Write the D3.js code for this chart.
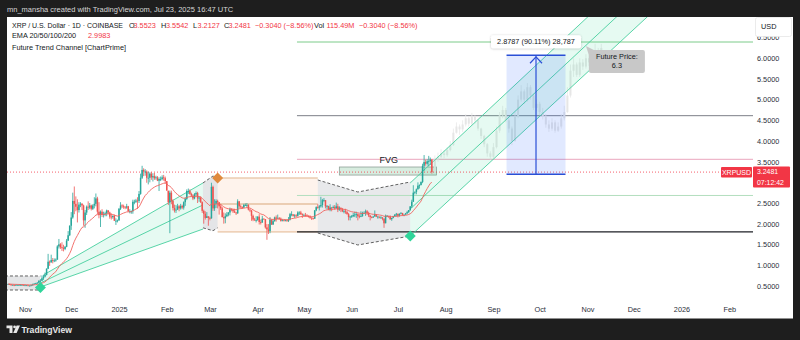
<!DOCTYPE html>
<html><head><meta charset="utf-8">
<script src="https://cdn.jsdelivr.net/npm/d3@7"></script>
<style>
body{margin:0;background:#1e1e1e;}
svg{display:block;font-family:"Liberation Sans",Arial,sans-serif;}
</style>
</head><body>
<svg id="c" width="800" height="340"></svg>
<script>
// ---------------- DATA ----------------
const startDate = "2024-10-21";
const firstOpen = 0.54;
const closes = [
0.54,0.53,0.52,0.52,0.51,0.52,0.52,
0.52,0.52,0.52,0.51,0.51,0.51,0.50,
0.50,0.51,0.53,0.55,0.56,0.57,0.62,
0.62,0.68,0.72,0.76,0.91,1.08,1.07,
1.12,1.10,1.11,1.13,1.45,1.50,1.43,
1.41,1.39,1.44,1.59,1.72,1.95,2.15,
2.55,2.48,2.41,2.33,2.46,2.48,2.44,
2.08,2.27,2.41,2.39,2.44,2.36,2.44,
2.48,2.61,2.29,2.21,2.29,2.22,2.23,
2.25,2.32,2.27,2.17,2.16,2.19,2.07,
2.07,2.08,2.36,2.44,2.42,2.41,2.39,
2.42,2.30,2.30,2.30,2.53,2.53,2.56,
2.55,2.72,3.11,3.30,3.26,3.26,3.11,
3.11,3.21,3.12,3.15,3.10,3.12,3.04,
3.08,3.08,3.12,3.10,3.03,2.80,2.52,
2.75,2.55,2.38,2.32,2.34,2.42,2.37,
2.43,2.39,2.52,2.60,2.79,2.79,2.72,
2.68,2.61,2.71,2.74,2.61,2.63,2.52,
2.31,2.24,2.14,2.18,2.14,2.13,2.89,
2.37,2.48,2.55,2.52,2.42,2.37,2.16,
2.13,2.18,2.22,2.27,2.35,2.34,2.30,
2.27,2.25,2.54,2.42,2.40,2.39,2.45,
2.45,2.45,2.34,2.32,2.19,2.10,2.09,
2.09,2.17,2.04,2.03,2.12,2.11,1.91,
1.86,1.82,2.10,1.98,2.06,2.15,2.12,
2.14,2.12,2.07,2.08,2.07,2.08,2.07,
2.10,2.23,2.23,2.19,2.20,2.19,2.27,
2.27,2.23,2.21,2.21,2.20,2.19,2.16,
2.15,2.13,2.12,2.32,2.40,2.39,2.42,
2.45,2.57,2.57,2.42,2.43,2.34,2.39,
2.38,2.40,2.37,2.42,2.34,2.39,2.35,
2.30,2.30,2.28,2.23,2.16,2.17,2.18,
2.21,2.22,2.23,2.18,2.17,2.18,2.26,
2.26,2.30,2.26,2.20,2.16,2.15,2.17,
2.23,2.17,2.17,2.15,2.15,2.12,2.01,
2.19,2.19,2.17,2.11,2.14,2.18,2.22,
2.24,2.19,2.24,2.26,2.21,2.22,2.25,
2.28,2.33,2.42,2.53,2.75,2.77,2.83,
2.92,2.93,3.01,3.40,3.49,3.45,3.51,
3.51,3.5523,3.2481];
const highs = [
0.55,0.55,0.54,0.53,0.53,0.53,0.53,
0.53,0.54,0.53,0.53,0.52,0.52,0.51,
0.51,0.53,0.55,0.56,0.57,0.59,0.63,
0.66,0.75,0.76,0.82,0.92,1.27,1.11,
1.25,1.17,1.16,1.16,1.48,1.63,1.53,
1.55,1.49,1.46,1.63,1.82,1.96,2.28,
2.75,2.90,2.66,2.59,2.52,2.52,2.50,
2.46,2.33,2.44,2.54,2.50,2.46,2.47,
2.64,2.73,2.65,2.52,2.32,2.35,2.29,
2.29,2.34,2.33,2.29,2.25,2.20,2.22,
2.13,2.10,2.38,2.52,2.47,2.46,2.42,
2.48,2.43,2.35,2.32,2.58,2.58,2.60,
2.64,2.79,3.21,3.40,3.34,3.32,3.29,
3.26,3.24,3.25,3.22,3.23,3.16,3.15,
3.12,3.14,3.17,3.18,3.14,3.02,2.79,
2.80,2.80,2.59,2.46,2.45,2.48,2.45,
2.48,2.46,2.54,2.64,2.83,2.85,2.83,
2.75,2.71,2.74,2.78,2.77,2.66,2.66,
2.54,2.34,2.30,2.28,2.17,2.17,2.99,
2.92,2.59,2.59,2.58,2.52,2.47,2.40,
2.27,2.25,2.28,2.28,2.39,2.37,2.35,
2.36,2.28,2.59,2.55,2.46,2.42,2.48,
2.49,2.50,2.47,2.36,2.33,2.22,2.14,
2.18,2.18,2.23,2.10,2.19,2.13,2.11,
1.99,1.99,2.16,2.10,2.09,2.17,2.20,
2.22,2.16,2.15,2.11,2.09,2.10,2.09,
2.16,2.26,2.30,2.21,2.23,2.23,2.30,
2.30,2.31,2.25,2.24,2.26,2.23,2.20,
2.20,2.15,2.14,2.33,2.42,2.47,2.45,
2.65,2.60,2.62,2.57,2.45,2.43,2.47,
2.40,2.44,2.45,2.51,2.48,2.42,2.37,
2.38,2.34,2.36,2.31,2.26,2.19,2.21,
2.26,2.29,2.29,2.25,2.23,2.30,2.29,
2.30,2.34,2.33,2.29,2.20,2.18,2.19,
2.32,2.23,2.19,2.17,2.18,2.16,2.13,
2.22,2.21,2.18,2.20,2.14,2.19,2.23,
2.26,2.24,2.25,2.28,2.26,2.22,2.26,
2.31,2.33,2.42,2.58,2.93,2.78,2.85,
3.00,2.95,3.02,3.45,3.66,3.55,3.56,
3.64,3.60,3.5542];
const lows = [
0.53,0.52,0.50,0.51,0.49,0.51,0.51,
0.51,0.51,0.51,0.50,0.50,0.50,0.49,
0.49,0.49,0.50,0.53,0.54,0.55,0.56,
0.58,0.61,0.64,0.70,0.75,0.90,0.98,
1.05,1.04,1.07,1.08,1.13,1.40,1.39,
1.34,1.33,1.36,1.43,1.58,1.70,1.85,
2.12,2.23,2.30,2.03,2.27,2.40,2.33,
1.95,1.90,2.21,2.33,2.35,2.32,2.33,
2.37,2.42,2.23,2.13,1.92,2.16,2.15,
2.18,2.18,2.23,2.12,2.10,2.12,2.07,
1.97,2.03,2.07,2.33,2.38,2.36,2.35,
2.36,2.29,2.25,2.24,2.24,2.47,2.50,
2.36,2.50,2.70,3.08,3.15,3.16,2.99,
2.95,3.00,3.06,3.02,3.06,3.06,3.03,
2.79,3.03,3.05,3.04,2.97,2.80,2.45,
1.77,2.47,2.32,2.27,2.26,2.33,2.30,
2.34,2.35,2.34,2.43,2.57,2.72,2.70,
2.65,2.57,2.59,2.66,2.50,2.53,2.50,
2.26,2.00,2.10,2.14,1.95,2.08,2.12,
2.31,2.31,2.38,2.37,2.22,2.33,2.15,
2.00,2.01,2.16,2.18,2.20,2.30,2.26,
2.26,2.21,2.24,2.38,2.37,2.36,2.38,
2.43,2.39,2.32,2.28,2.07,2.06,2.07,
2.03,2.07,1.98,1.98,2.02,2.10,1.88,
1.61,1.75,1.77,1.97,1.97,2.05,2.05,
2.13,2.10,2.05,2.06,2.06,2.06,2.05,
2.04,2.08,2.18,2.17,2.14,2.16,2.17,
2.21,2.21,2.14,2.20,2.17,2.18,2.15,
2.12,2.09,2.10,2.12,2.30,2.36,2.32,
2.39,2.39,2.52,2.37,2.35,2.33,2.30,
2.30,2.37,2.34,2.37,2.28,2.31,2.28,
2.28,2.25,2.24,2.22,2.08,2.08,2.14,
2.16,2.16,2.14,2.08,2.13,2.16,2.17,
2.25,2.19,2.21,2.16,2.08,2.13,2.14,
2.18,2.16,2.12,2.13,2.12,2.08,1.90,
2.01,2.16,2.14,2.09,2.07,2.13,2.17,
2.17,2.15,2.17,2.23,2.19,2.18,2.21,
2.23,2.26,2.31,2.38,2.53,2.71,2.71,
2.83,2.85,2.94,2.98,3.28,3.40,3.40,
3.39,3.42,3.2127];

// projected (ghost) candles, one every 2 days from this date
const ghostStart = "2025-07-25";
const ghostCloses = [3.55,3.62,3.70,3.66,3.78,3.90,4.20,4.35,4.28,4.40,4.55,4.42,4.60,4.50,4.30,4.12,3.92,3.70,3.62,3.85,4.25,4.62,4.75,4.50,4.30,4.00,4.60,5.00,5.20,5.00,5.30,5.10,4.80,4.90,4.70,4.60,4.40,4.30,4.45,4.25,4.35,4.55,4.70,5.10,5.70,5.85,5.60,5.90,5.80,6.00,5.90,6.10,6.20,6.00,6.25];
const ghostHighs  = [3.65,3.72,3.80,3.78,3.85,4.00,4.30,4.45,4.40,4.50,4.65,4.58,4.68,4.62,4.52,4.32,4.15,3.95,3.75,3.95,4.35,4.70,4.85,4.80,4.55,4.35,4.70,5.10,5.35,5.25,5.40,5.35,5.15,5.00,4.95,4.80,4.65,4.50,4.55,4.50,4.45,4.65,4.85,5.30,5.85,6.00,5.90,6.00,5.98,6.10,6.08,6.20,6.35,6.25,6.35];
const ghostLows   = [3.45,3.50,3.58,3.58,3.62,3.75,3.88,4.18,4.15,4.22,4.35,4.35,4.38,4.42,4.25,4.05,3.85,3.62,3.55,3.58,3.82,4.20,4.55,4.45,4.20,3.90,3.98,4.55,4.95,4.90,4.95,5.00,4.75,4.72,4.62,4.52,4.32,4.22,4.25,4.20,4.22,4.30,4.50,4.68,5.05,5.55,5.55,5.55,5.72,5.75,5.82,5.85,6.05,5.90,5.95];

// axes
const timeTicks  = ["2024-11-01","2024-12-01","2025-01-01","2025-02-01","2025-03-01","2025-04-01","2025-05-01","2025-06-01","2025-07-01","2025-08-01","2025-09-01","2025-10-01","2025-11-01","2025-12-01","2026-01-01","2026-02-01"];
const timeLabels = ["Nov","Dec","2025","Feb","Mar","Apr","May","Jun","Jul","Aug","Sep","Oct","Nov","Dec","2026","Feb"];
const priceTicks = [0.5,1,1.5,2,2.5,3,3.5,4,4.5,5,5.5,6,6.5];

// annotations in [date, price]
const leftZoneTop    = [["2024-10-19",0.735],["2024-11-11",0.735]];
const leftZoneBottom = [["2024-10-19",0.396],["2024-11-11",0.396]];
const fanUpper  = [["2024-11-13",0.76],["2025-02-24T12:00",2.985]];
const fanMiddle = [["2024-11-11",0.565],["2025-02-24T12:00",2.452]];
const fanLower  = [["2024-11-11",0.468],["2025-02-24T12:00",1.87]];
const marZoneTop    = [["2025-02-24T12:00",2.985],["2025-03-03",3.153],["2025-03-06",3.105]];
const marZoneBottom = [["2025-02-24T12:00",1.90],["2025-03-03",1.83],["2025-03-06",1.90]];
const orangeBox = {from:"2025-03-06", to:"2025-05-10", top:3.105, mid:2.476, bottom:1.80};
const midZoneTop    = [["2025-05-10",3.057],["2025-06-05",2.766],["2025-07-09",3.008]];
const midZoneBottom = [["2025-05-10",1.775],["2025-06-05",1.485],["2025-07-09",1.70]];
const chanUpper  = [["2025-07-09",2.985],["2026-01-13",9.54]];
const chanMiddle = [["2025-07-09",2.355],["2026-01-13",8.88]];
const chanLower  = [["2025-07-09",1.70],["2026-01-13",8.18]];
const diamondsGreen = [["2024-11-11",0.455],["2025-07-09",1.70]];
const diamondsOrange = [["2025-03-06",3.105]];
const levelsFrom = "2025-04-26T12:00";
const levels = [6.394, 4.612, 3.557, 2.682, 1.80];
const levelColors = ["#7ccb8a","#7d7f88","#eaa6bd","#b3dfbf","#1e2026"];
const fvgBox = {from:"2025-05-24", to:"2025-07-26", top:3.371, bottom:3.176};
const fvgLabelDate = "2025-06-25";
const measure = {from:"2025-09-09T12:00", to:"2025-10-17T18:00", low:3.1946, high:6.0733};
const futurePrice = {date:"2025-10-31", price:6.3};
const lastPrice = 3.2481;

// ---------------- DRAW ----------------
const P = s => new Date(s.length>10 ? s+"Z" : s+"T00:00Z");
const svg = d3.select("#c");
const x = d3.scaleUtc().domain([P("2024-11-01"), P("2026-02-01")]).range([25, 729.2]);
const y = d3.scaleLinear().domain([0.5, 6]).range([285.7, 58.3]);
const dayMs = 86400000;

// frame
svg.append("rect").attr("width",800).attr("height",340).attr("fill","#1e1e1e");
svg.append("rect").attr("x",7).attr("y",17).attr("width",786).attr("height",301.5).attr("fill","#ffffff");
svg.append("text").attr("x",7).attr("y",11.8).attr("fill","#d6d6d6").attr("font-size",7.5)
  .text("mn_mansha created with TradingView.com, Jul 23, 2025 16:47 UTC");

const defs = svg.append("defs");
defs.append("clipPath").attr("id","plot").append("rect").attr("x",7).attr("y",17).attr("width",746).attr("height",285);
const sh = defs.append("filter").attr("id","sh").attr("x","-20%").attr("y","-40%").attr("width","140%").attr("height","180%");
sh.append("feDropShadow").attr("dx",0).attr("dy",0.5).attr("stdDeviation",1).attr("flood-color","#000").attr("flood-opacity",0.25);

const g = svg.append("g").attr("clip-path","url(#plot)");
const pt = d => [x(P(d[0])), y(d[1])];
const line = d3.line();

function zone(top, bottom, fill){
  const poly = top.map(pt).concat(bottom.slice().reverse().map(pt));
  g.append("path").attr("d", line(poly)+"Z").attr("fill",fill).attr("stroke","none");
  [top,bottom].forEach(a => g.append("path").attr("d", line(a.map(pt))).attr("fill","none")
    .attr("stroke","#505050").attr("stroke-width",0.9).attr("stroke-dasharray","3,2"));
}
zone(leftZoneTop, leftZoneBottom, "rgba(120,123,134,0.2)");

// fan channel
{
  const poly = fanUpper.map(pt).concat(fanLower.slice().reverse().map(pt));
  g.append("path").attr("d", line(poly)+"Z").attr("fill","rgba(46,210,150,0.12)");
  [fanUpper,fanMiddle,fanLower].forEach(a => g.append("path").attr("d",line(a.map(pt)))
    .attr("fill","none").attr("stroke","#46cf9e").attr("stroke-width",0.9));
}
zone(marZoneTop, marZoneBottom, "rgba(120,123,134,0.2)");

// orange box
{
  const x0 = x(P(orangeBox.from)), x1 = x(P(orangeBox.to));
  g.append("rect").attr("x",x0).attr("y",y(orangeBox.top)).attr("width",x1-x0)
    .attr("height",y(orangeBox.bottom)-y(orangeBox.top)).attr("fill","rgba(245,150,80,0.11)");
  [["top","#e2b68f"],["mid","#d9a77a"],["bottom","#e2b68f"]].forEach(([k,c]) =>
    g.append("line").attr("x1",x0).attr("x2",x1).attr("y1",y(orangeBox[k])).attr("y2",y(orangeBox[k]))
      .attr("stroke",c).attr("stroke-width",1));
}
zone(midZoneTop, midZoneBottom, "rgba(120,123,134,0.17)");

// horizontal levels
const xl0 = x(P(levelsFrom));
levels.forEach((v,i) => g.append("line").attr("x1",xl0).attr("x2",753).attr("y1",y(v)).attr("y2",y(v))
  .attr("stroke",levelColors[i]).attr("stroke-width", i===4?1.2:1));

// FVG box
{
  const x0 = x(P(fvgBox.from)), x1 = x(P(fvgBox.to));
  g.append("rect").attr("x",x0).attr("y",y(fvgBox.top)).attr("width",x1-x0)
    .attr("height",y(fvgBox.bottom)-y(fvgBox.top)).attr("fill","rgba(110,185,140,0.28)")
    .attr("stroke","rgba(120,140,130,0.8)").attr("stroke-width",0.8);
}

// ghost candles
const gStart = P(ghostStart);
ghostCloses.forEach((c,i) => {
  const o = i===0 ? closes[closes.length-1] : ghostCloses[i-1];
  const cx = x(new Date(+gStart + i*2*dayMs));
  g.append("line").attr("x1",cx).attr("x2",cx).attr("y1",y(ghostHighs[i])).attr("y2",y(ghostLows[i]))
    .attr("stroke","#e8e8e8").attr("stroke-width",0.8);
  g.append("rect").attr("x",cx-1).attr("width",2).attr("y",y(Math.max(o,c)))
    .attr("height",Math.max(1,Math.abs(y(o)-y(c)))).attr("fill","#e6e6e6");
});

// trend channel 2
{
  const poly = chanUpper.map(pt).concat(chanLower.slice().reverse().map(pt));
  g.append("path").attr("d", line(poly)+"Z").attr("fill","rgba(46,210,150,0.12)");
  [chanUpper,chanMiddle,chanLower].forEach(a => g.append("path").attr("d",line(a.map(pt)))
    .attr("fill","none").attr("stroke","#46cf9e").attr("stroke-width",0.9));
}

// last price dotted line
g.append("line").attr("x1",7).attr("x2",721).attr("y1",y(lastPrice)).attr("y2",y(lastPrice))
  .attr("stroke","#f23645").attr("stroke-width",0.8).attr("stroke-dasharray","1,2");

// candles
const s0 = P(startDate);
closes.forEach((c,i) => {
  const o = i===0 ? firstOpen : closes[i-1];
  const cx = x(new Date(+s0 + i*dayMs));
  const col = c >= o ? "#26a69a" : "#ef5350";
  g.append("line").attr("x1",cx).attr("x2",cx).attr("y1",y(highs[i])).attr("y2",y(lows[i]))
    .attr("stroke",col).attr("stroke-width",0.8);
  g.append("rect").attr("x",cx-0.75).attr("width",1.5).attr("y",y(Math.max(o,c)))
    .attr("height",Math.max(0.8,Math.abs(y(o)-y(c)))).attr("fill",col);
});

// EMA 20
{
  const k = 2/21; let e = closes[0];
  const pts = closes.map((c,i) => { e = i===0 ? c : c*k + e*(1-k); return [x(new Date(+s0+i*dayMs)), y(e)]; });
  g.append("path").attr("d",line(pts)).attr("fill","none").attr("stroke","#f0625d").attr("stroke-width",0.9);
}

// diamonds
function diamond(d, col, r){
  const [cx,cy] = pt(d);
  g.append("path").attr("d",`M${cx},${cy-r}L${cx+r},${cy}L${cx},${cy+r}L${cx-r},${cy}Z`).attr("fill",col);
}
diamondsGreen.forEach(d => diamond(d,"#2fd59a",5.5));
diamondsOrange.forEach(d => diamond(d,"#e08a3e",5.5));

// FVG label
g.append("text").attr("x",x(P(fvgLabelDate))).attr("y",y(levels[2])+3.2).attr("text-anchor","middle")
  .attr("font-size",9).attr("fill","#131722").text("FVG");

// measure box
{
  const x0 = x(P(measure.from)), x1 = x(P(measure.to)), yt = y(measure.high), yb = y(measure.low);
  const cx = (x0+x1)/2;
  g.append("rect").attr("x",x0).attr("y",yt).attr("width",x1-x0).attr("height",yb-yt).attr("fill","rgba(41,98,255,0.14)");
  [yt,yb].forEach(v => g.append("line").attr("x1",x0).attr("x2",x1).attr("y1",v).attr("y2",v)
    .attr("stroke","#2a4fd6").attr("stroke-width",1.4));
  g.append("line").attr("x1",cx).attr("x2",cx).attr("y1",yb).attr("y2",yt+1).attr("stroke","#2a4fd6").attr("stroke-width",1.2);
  g.append("path").attr("d",`M${cx-6},${yt+8}L${cx},${yt+1.5}L${cx+6},${yt+8}`).attr("fill","none")
    .attr("stroke","#2a4fd6").attr("stroke-width",1.2);
  const lw = 90;
  g.append("rect").attr("x",cx-lw/2).attr("y",yt-20).attr("width",lw).attr("height",13).attr("rx",2)
    .attr("fill","#fff").attr("filter","url(#sh)");
  g.append("text").attr("x",cx).attr("y",yt-11).attr("text-anchor","middle").attr("font-size",7.3)
    .attr("fill","#131722").text("2.8787 (90.11%) 28,787");
}

// future price label
{
  const [ax, ay] = pt([futurePrice.date, futurePrice.price]);
  g.append("path").attr("d",`M${ax},${ay}L${ax+8},${ay+4}L${ax+3},${ay+9}Z`).attr("fill","#c8c8c8");
  g.append("rect").attr("x",ax+3).attr("y",ay+4).attr("width",56).attr("height",23).attr("rx",2).attr("fill","#c8c8c8");
  g.append("text").attr("x",ax+31).attr("y",ay+13.5).attr("text-anchor","middle").attr("font-size",7.3).attr("fill","#131722").text("Future Price:");
  g.append("text").attr("x",ax+31).attr("y",ay+22.5).attr("text-anchor","middle").attr("font-size",7.3).attr("fill","#131722").text(futurePrice.price.toFixed(1));
}

// axes
const xa = svg.append("g").attr("transform","translate(0,306.5)")
  .call(d3.axisBottom(x).tickValues(timeTicks.map(P)).tickFormat((d,i)=>timeLabels[i]).tickSize(0).tickPadding(0));
xa.select(".domain").remove();
xa.selectAll("text").attr("font-size",7.3).attr("fill","#2a2e39").attr("font-family","Liberation Sans,Arial,sans-serif");

const tagY = y(lastPrice);
// tick labels that sit under the last-price tag are hidden, as on the reference
const shownTicks = priceTicks.filter(v => Math.abs(y(v) - (tagY+5)) > 14);
const ya = svg.append("g").attr("transform","translate(757,0)")
  .call(d3.axisRight(y).tickValues(shownTicks).tickFormat(d3.format(".4f")).tickSize(0).tickPadding(0));
ya.select(".domain").remove();
ya.selectAll("text").attr("font-size",7.3).attr("fill","#2a2e39").attr("font-family","Liberation Sans,Arial,sans-serif");

// USD box (covers top of the highest tick label as in the reference)
svg.append("rect").attr("x",755.5).attr("y",17.5).attr("width",36).attr("height",19).attr("rx",2)
  .attr("fill","#fff").attr("stroke","#e6e6e6").attr("stroke-width",0.8);
svg.append("text").attr("x",761).attr("y",29).attr("font-size",7.3).attr("fill","#131722").text("USD");

// price tags
{
  const yy = tagY;
  svg.append("rect").attr("x",721).attr("y",yy-5).attr("width",31).attr("height",10.5).attr("rx",1).attr("fill","#f23645");
  svg.append("text").attr("x",736.5).attr("y",yy+2.7).attr("text-anchor","middle").attr("font-size",7).attr("fill","#fff").text("XRPUSD");
  svg.append("rect").attr("x",753).attr("y",yy-5.5).attr("width",37).attr("height",21).attr("rx",1).attr("fill","#f23645");
  svg.append("text").attr("x",757).attr("y",yy+2.3).attr("font-size",6.9).attr("fill","#fff").text(lastPrice.toFixed(4));
  svg.append("text").attr("x",757).attr("y",yy+12.6).attr("font-size",6.9).attr("fill","#fff").text("07:12:42");
}

// legend
const red = "#f23645", dark = "#131722";
const L1 = svg.append("text").attr("y",28.4).attr("font-size",7.3).attr("fill",dark);
[[12,"XRP / U.S. Dollar · 1D · COINBASE",dark],[129,"O",dark],[133.5,"3.5523",red],[161,"H",dark],[166,"3.5542",red],
 [193,"L",dark],[197.5,"3.2127",red],[224,"C",dark],[228.5,"3.2481",red],[255,"−0.3040 (−8.56%)",red],
 [314,"Vol",dark],[326.5,"115.49M",red],[359,"−0.3040 (−8.56%)",red]].forEach(([xx,t,c],i) => {
  const ts = L1.append("tspan").attr("x",xx).attr("fill",c).text(t);
  if (i===0) ts.attr("textLength",111).attr("lengthAdjust","spacingAndGlyphs");
});
const L2 = svg.append("text").attr("y",38).attr("font-size",7.3).attr("fill",dark);
L2.append("tspan").attr("x",12).text("EMA 20/50/100/200");
L2.append("tspan").attr("x",88).attr("fill",red).text("2.9983");
svg.append("text").attr("x",12).attr("y",49.6).attr("font-size",7.3).attr("fill",dark).text("Future Trend Channel [ChartPrime]");

// footer logo
svg.append("path").attr("d","M6.5,325.5h6v7.5h-3v-4.8h-3z").attr("fill","#e8e8e8");
svg.append("circle").attr("cx",14.6).attr("cy",326.9).attr("r",1.4).attr("fill","#e8e8e8");
svg.append("path").attr("d","M16.6,325.5h3.4l-3.4,7.5h-3.4z").attr("fill","#e8e8e8");
svg.append("text").attr("x",21.5).attr("y",332.6).attr("font-size",8.6).attr("font-weight","bold").attr("fill","#e8e8e8").text("TradingView");
</script>
</body></html>
